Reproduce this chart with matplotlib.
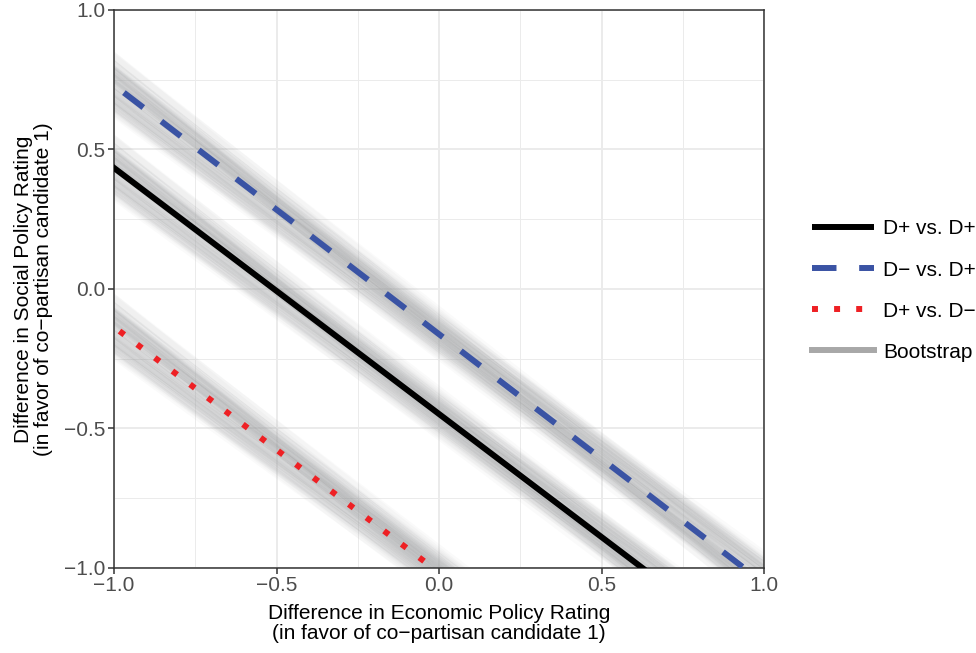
import numpy as np
import matplotlib as mpl
mpl.use('Agg')
import matplotlib.pyplot as plt

plt.rcParams['font.family'] = ['Liberation Sans', 'DejaVu Sans']

# fitted lines: intercept (at x=0) and slope for each comparison
groups = ['D+ vs. D+', 'D\u2212 vs. D+', 'D+ vs. D\u2212']
intercepts = [-0.448, -0.162, -1.016]
slopes = [-0.882, -0.893, -0.880]

# bootstrap deviations around each fitted line
boot_int = [0.012, -0.031, 0.047, -0.008, 0.025, -0.052, 0.003, 0.038, -0.019, 0.061,
            -0.044, 0.015, -0.027, 0.009, 0.033, -0.065, 0.021, -0.004, 0.054, -0.036,
            0.028, -0.013, 0.042, -0.058, 0.006, -0.022, 0.071, -0.039, 0.017, -0.001]
boot_slope = [-0.021, 0.035, 0.008, -0.047, 0.026, 0.012, -0.033, 0.051, -0.006, -0.028,
              0.019, 0.064, -0.015, 0.041, -0.055, 0.004, 0.029, -0.038, 0.013, 0.047,
              -0.009, -0.061, 0.022, 0.031, -0.024, 0.057, -0.012, 0.002, -0.043, 0.036]

colors = ['black', '#3A53A4', '#EE2024']
styles = [dict(ls='-'), dict(dashes=(4.1, 3.8)), dict(dashes=(1, 2.7))]

fig = plt.figure(figsize=(9.76, 6.53), dpi=100)
ax = fig.add_axes([0.1168, 0.1302, 0.666, 0.8545])

xs = np.array([-1.2, 1.2])
for a, b in zip(intercepts, slopes):
    for di, ds in zip(boot_int, boot_slope):
        ax.plot(xs, (a + di) + (b + ds) * xs, color='#A4A6A8', lw=10, alpha=0.055,
                solid_capstyle='butt', zorder=2)
        ax.plot(xs, (a + di) + (b + ds) * xs, color='#909090', lw=0.5, alpha=0.08,
                zorder=2)

handles = []
for a, b, c, st, name in zip(intercepts, slopes, colors, styles, groups):
    h, = ax.plot(xs, a + b * xs, color=c, lw=4.3, dash_capstyle='butt',
                 solid_capstyle='butt', label=name, zorder=3, **st)
    handles.append(h)
boot, = ax.plot([], [], color='#A8A8A8', lw=4.3, label='Bootstrap')
handles.append(boot)

ax.set_xlim(-1, 1)
ax.set_ylim(-1, 1)
ticks = [-1.0, -0.5, 0.0, 0.5, 1.0]
ax.set_xticks(ticks)
ax.set_yticks(ticks)
ax.set_xticks([-0.75, -0.25, 0.25, 0.75], minor=True)
ax.set_yticks([-0.75, -0.25, 0.25, 0.75], minor=True)
fmt = mpl.ticker.FuncFormatter(lambda v, p: ('%.1f' % v).replace('-', '\u2212'))
ax.xaxis.set_major_formatter(fmt)
ax.yaxis.set_major_formatter(fmt)
ax.grid(which='major', color='#EBEBEB', lw=1.4, zorder=0)
ax.grid(which='minor', color='#EBEBEB', lw=0.7, zorder=0)
ax.set_axisbelow(True)
ax.tick_params(which='major', length=4, width=1.1, color='#333333',
               labelsize=15, labelcolor='#4D4D4D', pad=2)
ax.tick_params(which='minor', length=0)
for s in ax.spines.values():
    s.set_color('#333333')
    s.set_linewidth(1.1)

ax.set_xlabel('Difference in Economic Policy Rating\n(in favor of co\u2212partisan candidate 1)',
              fontsize=15, linespacing=1.08, labelpad=6)
ax.set_ylabel('Difference in Social Policy Rating\n(in favor of co\u2212partisan candidate 1)',
              fontsize=15, linespacing=1.08, labelpad=8)

fig.legend(handles=handles, loc='center left', bbox_to_anchor=(0.823, 0.555),
           frameon=False, fontsize=15, handlelength=3.0, handletextpad=0.45,
           labelspacing=1.06, borderaxespad=0)

fig.savefig('out.png', dpi=100)
